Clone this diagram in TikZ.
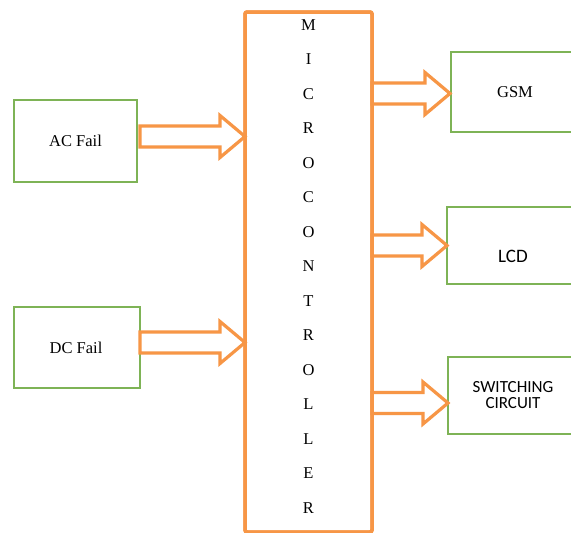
\documentclass[tikz,border=0pt]{standalone}
\usepackage{fontspec}
\setmainfont{Liberation Serif}
\newfontfamily\calib{Carlito}
\usetikzlibrary{calc}
\definecolor{orng}{HTML}{F79646}
\definecolor{grn}{HTML}{7EB356}
\tikzset{
  gbox/.style={draw=grn, line width=1.2pt, fill=white, inner sep=0pt, outer sep=0pt},
  serif/.style={font=\fontsize{16.5}{18}\selectfont, inner sep=0pt},
  sans/.style={font=\calib\fontsize{17}{17}\selectfont, inner sep=0pt, align=center},
  blockarr/.style={draw=orng, line width=3.2pt, fill=white, line join=miter},
  mcbox/.style={draw=orng, line width=3.5pt, rounded corners=2pt, inner sep=0pt, outer sep=0pt}
}
\newcommand\barrow[2]{%
  \draw[blockarr] ($(#1)+(0,-10.5)$) -- ($(#2)+(-25,-10.5)$) -- ($(#2)+(-25,-21)$)
    -- (#2) -- ($(#2)+(-25,21)$) -- ($(#2)+(-25,10.5)$) -- ($(#1)+(0,10.5)$) -- cycle;}
\begin{document}
\begin{tikzpicture}[x=1pt,y=-1pt]
\path[use as bounding box, clip] (0,0) rectangle (571,533);
\fill[white] (0,0) rectangle (571,533);
% boxes
\node[gbox, minimum width=123pt, minimum height=82pt] (ac) at (75.5,141) {};
\node[serif] (act) at (75.5,141) {AC Fail};
\node[gbox, minimum width=126pt, minimum height=81pt] (dc) at (77,347.5) {};
\node[serif] (dct) at (76,348) {DC Fail};
\node[mcbox, minimum width=127pt, minimum height=520pt] (mc) at (308.5,272) {};
\node[gbox, minimum width=127pt, minimum height=80pt] (gsm) at (514.5,92) {};
\node[serif] (gsmt) at (515,92) {GSM};
\node[gbox, minimum width=131pt, minimum height=77pt] (lcd) at (512.5,245.5) {};
\node[sans, font=\calib\fontsize{19}{19}\selectfont] (lcdt) at (513,256) {LCD};
\node[gbox, minimum width=130pt, minimum height=77pt] (sw) at (513,395.5) {};
\node[sans] (swt) at (513,395.5) {SWITCHING\\[-1pt]CIRCUIT};
% letters
\foreach \l [count=\i from 0] in {M,I,C,R,O,C,O,N,T,R,O,L,L,E,R}{
  \node[serif] (mc\i) at (308.5,25+34.5*\i) {\l};
}
% arrow coordinates
\coordinate (a1s) at (140,136.5);
\coordinate (a1t) at (mc.west |- a1s);
\coordinate (a2s) at (140,342.5);
\coordinate (a2t) at (mc.west |- a2s);
\coordinate (a3s) at (mc.east |- 0,93.5);
\coordinate (a3t) at ($(gsm.west |- a3s)+(-1,0)$);
\coordinate (a4s) at (mc.east |- 0,245.5);
\coordinate (a4t) at (lcd.west |- a4s);
\coordinate (a5s) at (mc.east |- 0,403);
\coordinate (a5t) at (sw.west |- a5s);
\barrow{a1s}{a1t}
\barrow{a2s}{a2t}
\barrow{a3s}{a3t}
\barrow{a4s}{a4t}
\barrow{a5s}{a5t}
% redraw microcontroller outline on top
\draw[draw=orng, line width=3.5pt, rounded corners=2pt] (mc.south west) rectangle (mc.north east);
\end{tikzpicture}
\end{document}
